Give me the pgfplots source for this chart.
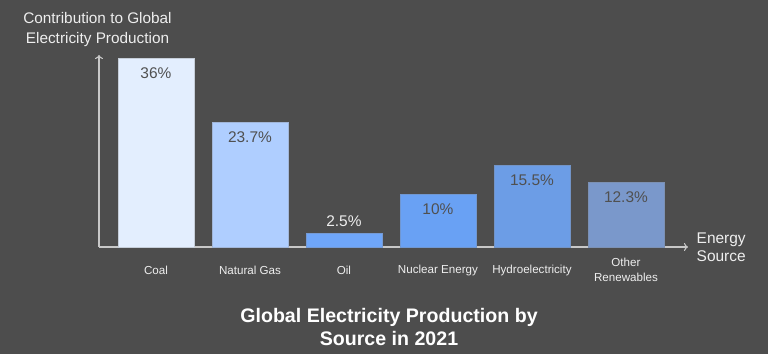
\documentclass[border=0pt]{standalone}
\usepackage{pgfplots}
\pgfplotsset{compat=1.18}
\usetikzlibrary{arrows.meta}
\usepackage{fontspec}
\setmainfont{Liberation Sans}
\definecolor{bg}{HTML}{4D4D4D}
\definecolor{axl}{HTML}{C8C8C8}
\definecolor{txt}{HTML}{EEEEEE}
\definecolor{vtxt}{HTML}{505050}
\definecolor{c1}{HTML}{E3EEFE}
\definecolor{c2}{HTML}{AFCEFF}
\definecolor{c3}{HTML}{6FA6F9}
\definecolor{c4}{HTML}{69A1F4}
\definecolor{c5}{HTML}{6C9DE6}
\definecolor{c6}{HTML}{7A98CB}
\begin{document}
\begin{tikzpicture}[x=0.75pt,y=-0.75pt]
\fill[bg] (0,0) rectangle (768,354);
\begin{axis}[
  at={(74.25pt,-185.25pt)}, anchor=south west,
  scale only axis, width=441.75pt, height=144pt,
  xmin=-0.606, xmax=5.66, ymin=0, ymax=36.57,
  axis lines=left,
  axis line style={draw=axl, line width=0.8pt, -{To[length=3pt,width=6pt]}},
  ytick=\empty,
  xtick={0,1,2,3,4,5},
  xticklabels={Coal,Natural Gas,Oil,Nuclear Energy,Hydroelectricity,{Other\\Renewables}},
  major tick length=0pt,
  xticklabel style={text=txt, font=\fontsize{8.7}{11.25}\selectfont, align=center, anchor=center, yshift=-17.25pt},
  ybar, bar width=0.809, bar shift=0pt,
  /pgf/number format/assume math mode=true,
  nodes near coords={\pgfmathprintnumber[fixed,precision=1]{\pgfplotspointmeta}\%},
  every node near coord/.append style={font=\fontsize{11.6}{14}\selectfont, text=vtxt, anchor=center, yshift=-11.25pt},
  clip=false,
]
\addplot[fill=c1, draw=c1!70!gray, line width=0.6pt] coordinates {(0,36)};
\addplot[fill=c2, draw=c2!70!gray, line width=0.6pt] coordinates {(1,23.7)};
\addplot[fill=c3, draw=c3!70!gray, line width=0.6pt, every node near coord/.append style={text=txt, yshift=21pt}] coordinates {(2,2.5)};
\addplot[fill=c4, draw=c4!70!gray, line width=0.6pt] coordinates {(3,10)};
\addplot[fill=c5, draw=c5!70!gray, line width=0.6pt] coordinates {(4,15.5)};
\addplot[fill=c6, draw=c6!70!gray, line width=0.6pt] coordinates {(5,12.3)};
\end{axis}
\node[text=txt, align=center, font=\fontsize{11.5}{15}\selectfont] at (97.5,30) {Contribution to Global\\Electricity Production};
\node[text=txt, align=left, anchor=west, font=\fontsize{11.6}{13.5}\selectfont] at (692,247) {Energy\\Source};
\node[text=white, align=center, font=\fontsize{14.7}{17.25}\selectfont\bfseries] at (389,326.5) {Global Electricity Production by\\Source in 2021};
\end{tikzpicture}
\end{document}
